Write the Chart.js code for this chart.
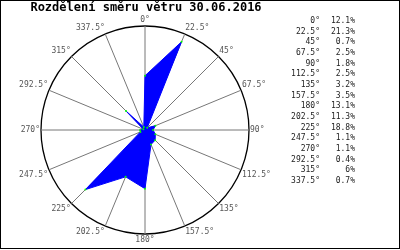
<!DOCTYPE html>
<html lang="cs">
<head>
  <meta charset="utf-8">
  <title>Rozdělení směru větru</title>
  <script src="https://cdn.jsdelivr.net/npm/chart.js@4/dist/chart.umd.min.js"></script>
  <style>
    html, body { margin: 0; padding: 0; background: #fff; }
    .wrapper { width: 400px; height: 250px; }
  </style>
</head>
<body>
  <div class="wrapper">
    <canvas id="chart-0" width="400" height="250"></canvas>
  </div>

  <script>
    let directions = ['0°', '22.5°', '45°', '67.5°', '90°', '112.5°', '135°', '157.5°',
                      '180°', '202.5°', '225°', '247.5°', '270°', '292.5°', '315°', '337.5°'];
    let shares = [12.1, 21.3, 0.7, 2.5, 1.8, 2.5, 3.2, 3.5,
                  13.1, 11.3, 18.8, 1.1, 1.1, 0.4, 6, 0.7];
    let scaleMax = 23.2;

    let mono = '"DejaVu Sans Mono", "Liberation Mono", monospace';

    // right hand list of direction / share + frame round the picture
    let sideList = {
      id: 'sideList',
      afterDraw(chart) {
        let ctx = chart.ctx;
        ctx.save();
        ctx.font = '8px ' + mono;
        ctx.fillStyle = '#222';
        ctx.textBaseline = 'middle';
        ctx.textAlign = 'right';
        for (let i = 0; i < directions.length; i++) {
          let y = 21 + i * 10.67;
          ctx.fillText(directions[i], 320, y);
          ctx.fillText(shares[i] + '%', 355, y);
        }
        ctx.strokeStyle = '#000';
        ctx.lineWidth = 1;
        ctx.strokeRect(0.5, 0.5, 399, 248);
        ctx.restore();
      }
    };

    let chart = new Chart('chart-0', {
      type: 'radar',
      data: {
        labels: directions,
        datasets: [{
          label: 'vítr',
          data: shares,
          backgroundColor: '#0000ff',
          borderColor: '#0000ff',
          borderWidth: 1,
          pointRadius: 1,
          pointBackgroundColor: '#00ff00',
          pointBorderWidth: 0,
          fill: true
        }]
      },
      options: {
        responsive: false,
        animation: false,
        layout: {
          padding: { left: 16, right: 124, top: 0, bottom: 4 }
        },
        plugins: {
          legend: { display: false },
          tooltip: { enabled: false },
          title: {
            display: true,
            text: 'Rozdělení směru větru 30.06.2016',
            color: '#000',
            font: { family: mono, size: 12, weight: 'bold' },
            padding: { top: 1, bottom: 0 }
          }
        },
        scales: {
          r: {
            min: 0,
            max: scaleMax,
            ticks: { display: false },
            grid: {
              circular: true,
              lineWidth: 1.3,
              color: (c) => c.tick && c.tick.value === scaleMax ? '#000' : 'rgba(0,0,0,0)'
            },
            angleLines: { color: '#777', lineWidth: 1 },
            pointLabels: {
              color: '#555',
              padding: 1,
              font: { family: mono, size: 8 }
            }
          }
        }
      },
      plugins: [sideList]
    });
  </script>
</body>
</html>
